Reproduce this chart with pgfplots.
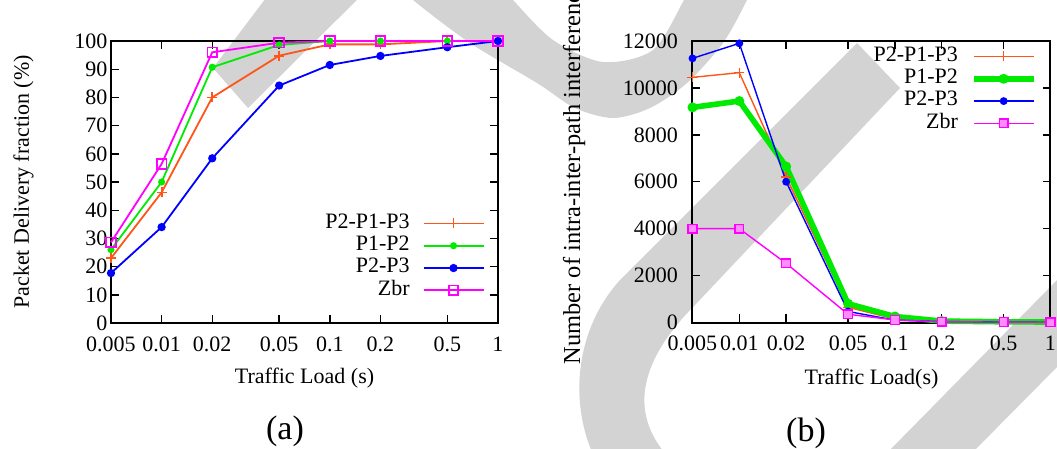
\documentclass[border=0pt]{standalone}
\usepackage{fontspec}
\setmainfont{Liberation Serif}
\usepackage{pgfplots}
\pgfplotsset{compat=1.18}

\definecolor{cOr}{RGB}{255,85,25}
\definecolor{cGr}{RGB}{0,235,0}
\definecolor{cBl}{RGB}{0,0,255}
\definecolor{cMa}{RGB}{255,0,255}
\definecolor{cMaL}{RGB}{255,140,255}
\definecolor{wm}{RGB}{211,211,211}

\begin{document}
\begin{tikzpicture}[x=0.5pt,y=-0.5pt]
\path[use as bounding box] (0,0) rectangle (1057,449);
\clip (0,0) rectangle (1057,449);

% watermark shapes behind the plots
\fill[wm] (272,-10) -- (367,-10) -- (248,108) -- (213,68) -- cycle;
\fill[wm] plot[smooth] coordinates {(400,-15)(413,0)(470,43)(537,83)(575,108)(613,118)(650,108)(687,83)(723,43)(747,0)(752,-15)}
  -- plot[smooth] coordinates {(692,-15)(684,0)(653,50)(603,62)(553,40)(513,0)(500,-15)} -- cycle;
\fill[wm] (857,43) -- (900,88) -- (695,305) .. controls (640,360) and (630,410) .. (664,452)
  -- (592,452) .. controls (570,400) and (575,330) .. (620,280) -- cycle;
\fill[wm] (1062,275) -- (1062,362) -- (973,452) -- (888,452) -- cycle;

% (a) packet delivery fraction
\begin{axis}[
  scale only axis, anchor=south west,
  at={(55.5pt,-161.5pt)},
  width=193.5pt, height=141pt,
  xmode=log, xmin=0.005, xmax=1,
  xtick={0.005,0.01,0.02,0.05,0.1,0.2,0.5,1},
  xticklabels={0.005,0.01,0.02,0.05,0.1,0.2,0.5,1},
  minor xtick={},
  axis line style={line width=1pt},
  tick style={line width=0.7pt, black},
  major tick length=4pt,
  tick align=inside,
  font=\fontsize{11}{13}\selectfont,
  xticklabel style={yshift=-3.3pt},
  clip=false,
  ymin=0, ymax=100,
  ytick={0,10,20,30,40,50,60,70,80,90,100},
  yticklabels={0,10,20,30,40,50,60,70,80,90,100},
  yticklabel style={xshift=1.7pt},
  xlabel={Traffic Load (s)},
  xlabel style={at={(axis description cs:0.5,-0.2163)}, anchor=base},
  ylabel={Packet Delivery fraction (\%)},
  ylabel style={at={(axis description cs:-0.2119,0.5)}, anchor=base},
  legend plot pos=right,
  legend cell align=right,
  legend style={draw=none, fill=none, inner sep=0pt, row sep=0pt, column sep=6.5pt,
    at={(axis description cs:0.966,0.394)}, anchor=north east,
    nodes={inner sep=0pt, text height=8pt, text depth=3.15pt}},
  legend image code/.code={\draw[mark repeat=2,mark phase=2]
    plot coordinates {(0pt,0pt)(15pt,0pt)(30pt,0pt)};},
]
\addplot[draw=cOr, line width=0.9pt, mark=+, mark size=2.5pt, mark options={draw=cOr}] coordinates {
  (0.005,23) (0.01,46.3) (0.02,80) (0.05,94.8) (0.1,98.8) (0.2,98.8) (0.5,100) (1,100)};
\addlegendentry{P2-P1-P3}
\addplot[color=cGr, line width=0.9pt, mark=*, mark size=1.3pt] coordinates {
  (0.005,26) (0.01,50) (0.02,90.7) (0.05,98.6) (0.1,100) (0.2,100) (0.5,100) (1,100)};
\addlegendentry{P1-P2}
\addplot[color=cBl, line width=0.9pt, mark=*, mark size=1.6pt] coordinates {
  (0.005,17.7) (0.01,34) (0.02,58.4) (0.05,84.2) (0.1,91.5) (0.2,94.7) (0.5,97.8) (1,100)};
\addlegendentry{P2-P3}
\addplot[draw=cMa, line width=0.9pt, mark=square, mark size=2.4pt, mark options={draw=cMa, fill=none}] coordinates {
  (0.005,28.6) (0.01,56.4) (0.02,96) (0.05,99.4) (0.1,100) (0.2,100) (0.5,100) (1,100)};
\addlegendentry{Zbr}
\end{axis}

% (b) interference
\begin{axis}[
  scale only axis, anchor=south west,
  at={(346.25pt,-161.25pt)},
  width=179pt, height=140.75pt,
  xmode=log, xmin=0.005, xmax=1,
  xtick={0.005,0.01,0.02,0.05,0.1,0.2,0.5,1},
  xticklabels={0.005,0.01,0.02,0.05,0.1,0.2,0.5,1},
  minor xtick={},
  axis line style={line width=1pt},
  tick style={line width=0.7pt, black},
  major tick length=4pt,
  tick align=inside,
  font=\fontsize{11}{13}\selectfont,
  xticklabel style={yshift=-3.3pt},
  clip=false,
  ymin=0, ymax=12000,
  scaled y ticks=false,
  ytick={0,2000,4000,6000,8000,10000,12000},
  yticklabels={0,2000,4000,6000,8000,10000,12000},
  yticklabel style={xshift=-3.8pt},
  xlabel={Traffic Load(s)},
  xlabel style={at={(axis description cs:0.5,-0.2185)}, anchor=base},
  ylabel={Number of intra-inter-path interference},
  ylabel style={at={(axis description cs:-0.3142,0.531)}, anchor=base,
    font=\fontsize{12.2}{14}\selectfont},
  legend plot pos=right,
  legend cell align=right,
  legend style={draw=none, fill=none, inner sep=0pt, row sep=0pt, column sep=6.5pt,
    at={(axis description cs:0.962,0.986)}, anchor=north east,
    nodes={inner sep=0pt, text height=8pt, text depth=3.15pt}},
  legend image code/.code={\draw[mark repeat=2,mark phase=2]
    plot coordinates {(0pt,0pt)(15pt,0pt)(30pt,0pt)};},
]
\addplot[color=cOr, line width=0.7pt, mark=+, mark size=2.5pt] coordinates {
  (0.005,10450) (0.01,10650) (0.02,6200) (0.05,650) (0.1,150) (0.2,50) (0.5,30) (1,20)};
\addlegendentry{P2-P1-P3}
\addplot[color=cGr, line width=2.8pt, mark=*, mark size=1pt] coordinates {
  (0.005,9170) (0.01,9440) (0.02,6650) (0.05,800) (0.1,255) (0.2,60) (0.5,30) (1,20)};
\addlegendentry{P1-P2}
\addplot[color=cBl, line width=0.7pt, mark=*, mark size=1.6pt] coordinates {
  (0.005,11260) (0.01,11900) (0.02,6000) (0.05,470) (0.1,100) (0.2,40) (0.5,20) (1,10)};
\addlegendentry{P2-P3}
\addplot[draw=cMa, line width=0.7pt, mark=square*, mark size=2.2pt,
  mark options={draw=cMa, fill=cMaL}] coordinates {
  (0.005,4000) (0.01,4000) (0.02,2520) (0.05,350) (0.1,110) (0.2,30) (0.5,20) (1,10)};
\addlegendentry{Zbr}
\end{axis}

\node[font=\fontsize{17}{20}\selectfont] at (285,431) {(a)};
\node[font=\fontsize{17}{20}\selectfont] at (806,433) {(b)};
\end{tikzpicture}
\end{document}
